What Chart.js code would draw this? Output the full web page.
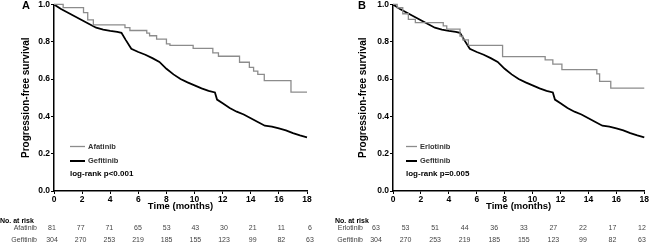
<!DOCTYPE html>
<html>
<head>
<meta charset="utf-8">
<script src="https://cdn.jsdelivr.net/npm/chart.js@4.4.1/dist/chart.umd.min.js"></script>
<style>
  body { margin: 0; background: #fff; width: 650px; height: 245px; overflow: hidden; position: relative; }
  .panel { position: absolute; top: 0; width: 325px; height: 245px; }
</style>
</head>
<body>
<div class="panel" style="left:0"><canvas id="chartA" width="325" height="245"></canvas></div>
<div class="panel" style="left:325px"><canvas id="chartB" width="325" height="245"></canvas></div>
<script>
// Kaplan-Meier curves, values (time in months, survival fraction)
const monthTicks = [0, 2, 4, 6, 8, 10, 12, 14, 16, 18];
const survTicks = [0, 0.2, 0.4, 0.6, 0.8, 1.0];

const afatinibTime = [0, 0.65, 2.1, 2.4, 2.8, 5.05, 5.4, 6.6, 6.8, 7.3, 8.0, 8.25, 9.9, 11.3, 11.7, 13.2, 13.9, 14.2, 14.5, 14.96, 16.86, 18];
const afatinibSurv = [1, 0.983, 0.956, 0.917, 0.89, 0.876, 0.86, 0.846, 0.832, 0.814, 0.788, 0.78, 0.764, 0.74, 0.722, 0.69, 0.663, 0.642, 0.625, 0.592, 0.53, 0.53];

const erlotinibTime = [0, 0.3, 0.7, 1.1, 1.6, 3.6, 3.85, 4.8, 5.0, 5.4, 7.85, 10.9, 11.45, 12.1, 14.6, 14.8, 15.6, 18];
const erlotinibSurv = [1, 0.982, 0.95, 0.92, 0.902, 0.885, 0.867, 0.83, 0.81, 0.78, 0.72, 0.703, 0.68, 0.65, 0.628, 0.587, 0.551, 0.551];

const gefitinibTime = [0, 0.5, 1, 1.5, 2, 2.5, 3, 3.5, 4, 4.5, 4.8, 5.1, 5.5, 6, 6.5, 7, 7.5, 8, 8.5, 9, 9.5, 10, 10.5, 11, 11.45, 11.6, 12, 12.5, 13, 13.5, 14, 14.5, 15, 15.5, 16, 16.5, 17, 17.5, 18];
const gefitinibSurv = [1, 0.975, 0.955, 0.935, 0.915, 0.895, 0.875, 0.865, 0.858, 0.853, 0.848, 0.81, 0.762, 0.745, 0.73, 0.712, 0.692, 0.655, 0.625, 0.6, 0.582, 0.566, 0.55, 0.537, 0.528, 0.49, 0.47, 0.445, 0.425, 0.41, 0.39, 0.37, 0.35, 0.345, 0.335, 0.325, 0.31, 0.298, 0.288];

// numbers at risk
const afatinibRisk = [81, 77, 71, 65, 53, 43, 30, 21, 11, 6];
const erlotinibRisk = [63, 53, 51, 44, 36, 33, 27, 22, 17, 12];
const gefitinibRisk = [304, 270, 253, 219, 185, 155, 123, 99, 82, 63];

const FONT = "'Liberation Sans', Arial, sans-serif";

function toPoints(t, s) {
    return t.map((x, i) => ({ x: x, y: s[i] }));
}

// legend, p-value, panel letter and risk table
const extrasPlugin = {
    id: 'extras',
    afterDraw(chart, args, o) {
        const ctx = chart.ctx;
        const area = chart.chartArea;
        ctx.save();
        ctx.textBaseline = 'middle';

        // panel letter
        ctx.fillStyle = '#000';
        ctx.font = 'bold 11px ' + FONT;
        ctx.textAlign = 'center';
        ctx.fillText(o.letter, o.letterX, 6);

        // in-plot legend
        const lx = area.left + o.legendDx;
        ctx.font = 'bold 7.5px ' + FONT;
        ctx.textAlign = 'left';
        ctx.lineWidth = 1.3;
        ctx.strokeStyle = '#8c8c8c';
        ctx.beginPath(); ctx.moveTo(lx, 146.5); ctx.lineTo(lx + o.legendLen, 146.5); ctx.stroke();
        ctx.lineWidth = 2;
        ctx.strokeStyle = '#000';
        ctx.beginPath(); ctx.moveTo(lx, 161); ctx.lineTo(lx + o.legendLen, 161); ctx.stroke();
        ctx.fillStyle = '#333';
        ctx.fillText(o.names[0], lx + o.legendLen + 3, 146.5);
        ctx.fillText(o.names[1], lx + o.legendLen + 3, 161);
        ctx.font = 'bold 8px ' + FONT;
        ctx.fillStyle = '#000';
        ctx.fillText(o.pText, lx, 174);

        // risk table
        ctx.font = 'bold 7px ' + FONT;
        ctx.fillStyle = '#000';
        ctx.fillText('No. at risk', o.riskHeadX, 221.5);
        ctx.font = '7px ' + FONT;
        ctx.fillStyle = '#444';
        const rowsY = [228.5, 240.5];
        o.rows.forEach((vals, r) => {
            ctx.textAlign = 'right';
            ctx.fillText(o.names[r], o.riskLabelRight, rowsY[r]);
            ctx.textAlign = 'center';
            vals.forEach((v, i) => {
                const x = o.riskFirstX + (o.riskLastX - o.riskFirstX) * i / (vals.length - 1);
                ctx.fillText(String(v), x, rowsY[r]);
            });
        });
        ctx.restore();
    }
};

function makePanel(id, grayName, grayTime, graySurv, grayRisk, layoutOpts) {
    const ctx = document.getElementById(id).getContext('2d');
    return new Chart(ctx, {
        type: 'scatter',
        data: {
            datasets: [{
                label: grayName,
                data: toPoints(grayTime, graySurv),
                showLine: true,
                stepped: 'before',
                borderColor: '#8c8c8c',
                borderWidth: 1.3,
                pointRadius: 0,
                clip: 4
            }, {
                label: 'Gefitinib',
                data: toPoints(gefitinibTime, gefitinibSurv),
                showLine: true,
                borderColor: '#000',
                borderWidth: 1.8,
                pointRadius: 0,
                tension: 0,
                clip: 4
            }]
        },
        options: {
            responsive: false,
            animation: false,
            events: [],
            layout: {
                padding: { left: layoutOpts.padLeft, right: layoutOpts.padRight, top: 0, bottom: 32 }
            },
            plugins: {
                legend: { display: false },
                tooltip: { enabled: false },
                extras: {
                    letter: layoutOpts.letter,
                    letterX: layoutOpts.letterX,
                    legendDx: layoutOpts.legendDx,
                    legendLen: layoutOpts.legendLen,
                    names: [grayName, 'Gefitinib'],
                    pText: layoutOpts.pText,
                    rows: [grayRisk, gefitinibRisk],
                    riskHeadX: layoutOpts.riskHeadX,
                    riskLabelRight: layoutOpts.riskLabelRight,
                    riskFirstX: layoutOpts.riskFirstX,
                    riskLastX: layoutOpts.riskLastX
                }
            },
            scales: {
                x: {
                    type: 'linear',
                    min: monthTicks[0],
                    max: monthTicks[monthTicks.length - 1],
                    afterBuildTicks: s => { s.ticks = monthTicks.map(v => ({ value: v })); },
                    afterFit: s => { s.height = 22; },
                    ticks: {
                        color: '#000',
                        padding: 1,
                        maxRotation: 0,
                        font: { family: FONT, size: 8.5, weight: 'bold' }
                    },
                    grid: { drawOnChartArea: false, color: '#000', tickLength: 3, lineWidth: 1 },
                    border: { color: '#000', width: 1.5 },
                    title: {
                        display: true,
                        text: 'Time (months)',
                        color: '#000',
                        padding: { top: 0, bottom: 1 },
                        font: { family: FONT, size: 9.5, weight: 'bold' }
                    }
                },
                y: {
                    min: 0,
                    max: 1,
                    afterBuildTicks: s => { s.ticks = survTicks.map(v => ({ value: v })); },
                    afterFit: s => { s.width = layoutOpts.yWidth; },
                    ticks: {
                        color: '#000',
                        padding: 1,
                        callback: v => Number(v).toFixed(1),
                        font: { family: FONT, size: 8.5, weight: 'bold', lineHeight: 0.8 }
                    },
                    grid: { drawOnChartArea: false, color: '#000', tickLength: 3, lineWidth: 1 },
                    border: { color: '#000', width: 1.5 },
                    title: {
                        display: true,
                        text: 'Progression-free survival',
                        color: '#000',
                        padding: 0,
                        font: { family: FONT, size: 10, weight: 'bold' }
                    }
                }
            }
        },
        plugins: [extrasPlugin]
    });
}

makePanel('chartA', 'Afatinib', afatinibTime, afatinibSurv, afatinibRisk, {
    padLeft: 20, padRight: 18, yWidth: 34,
    letter: 'A', letterX: 26,
    legendDx: 16, legendLen: 15, pText: 'log-rank p<0.001',
    riskHeadX: 0, riskLabelRight: 37, riskFirstX: 52, riskLastX: 310
});

makePanel('chartB', 'Erlotinib', erlotinibTime, erlotinibSurv, erlotinibRisk, {
    padLeft: 32, padRight: 5, yWidth: 36,
    letter: 'B', letterX: 37,
    legendDx: 13, legendLen: 11, pText: 'log-rank p=0.005',
    riskHeadX: 10, riskLabelRight: 38, riskFirstX: 51, riskLastX: 317
});
</script>
</body>
</html>
